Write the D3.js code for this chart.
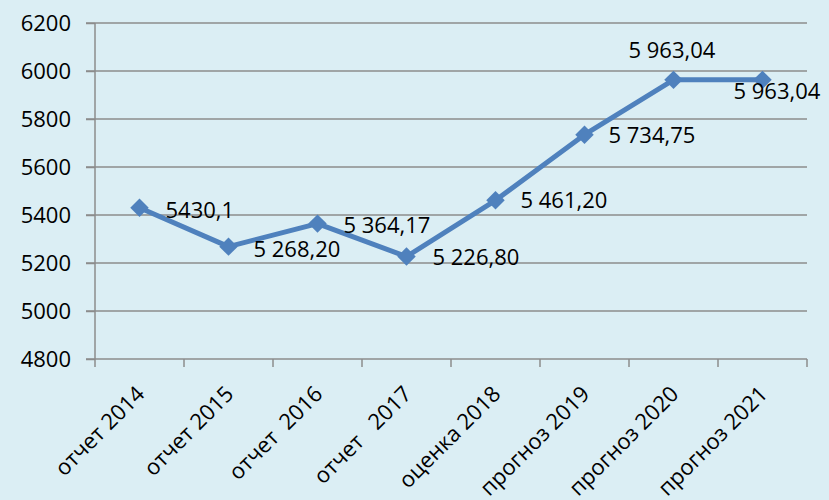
<!DOCTYPE html>
<html>
<head>
<meta charset="utf-8">
<script src="https://cdn.jsdelivr.net/npm/d3@7"></script>
<style>
  body { margin: 0; background: #dbeef4; }
  svg { display: block; font-family: "Open Sans", sans-serif; }
  text { white-space: pre; }
</style>
</head>
<body>
<div id="chart"></div>
<script>
// data
var categories = ["отчет 2014", "отчет 2015", "отчет  2016", "отчет   2017",
                  "оценка 2018", "прогноз 2019", "прогноз 2020", "прогноз 2021"];
var values = [5430.1, 5268.20, 5364.17, 5226.80, 5461.20, 5734.75, 5963.04, 5963.04];
var valueLabels = ["5430,1", "5 268,20", "5 364,17", "5 226,80", "5 461,20",
                   "5 734,75", "5 963,04", "5 963,04"];
var yTicks = [4800, 5000, 5200, 5400, 5600, 5800, 6000, 6200];

var width = 829, height = 500;
var margin = { top: 23, right: 22, bottom: 141, left: 95 };
var innerW = width - margin.left - margin.right,
    innerH = height - margin.top - margin.bottom;

var svg = d3.select("#chart").append("svg")
    .attr("width", width)
    .attr("height", height);

svg.append("rect")
    .attr("width", width).attr("height", height)
    .attr("fill", "#dbeef4");

var g = svg.append("g")
    .attr("transform", "translate(" + margin.left + "," + margin.top + ")");

var x = d3.scaleBand().domain(categories).range([0, innerW]);
var y = d3.scaleLinear().domain([4800, 6200]).range([innerH, 0]);

// horizontal grid lines
g.append("g").selectAll("line")
    .data(yTicks.slice(1))
    .join("line")
    .attr("x1", -9).attr("x2", innerW)
    .attr("y1", d => y(d)).attr("y2", d => y(d))
    .attr("stroke", "#8c8c8c")
    .attr("stroke-width", 1.5);

// y axis
var yAxis = g.append("g")
    .call(d3.axisLeft(y).tickValues(yTicks).tickSize(9).tickPadding(15).tickFormat(d3.format("d")));
yAxis.selectAll("line, path").attr("stroke", "#8c8c8c").attr("stroke-width", 1.5);
yAxis.select(".domain").attr("d", "M0," + innerH + "V0");
yAxis.selectAll("text").attr("font-size", 22).attr("fill", "#000")
    .attr("font-family", "Open Sans, sans-serif");

// x axis - ticks on band edges
var xAxisG = g.append("g").attr("transform", "translate(0," + innerH + ")");
xAxisG.append("line")
    .attr("x1", -9).attr("x2", innerW)
    .attr("stroke", "#8c8c8c").attr("stroke-width", 1.5);
xAxisG.selectAll(".tk")
    .data(categories.concat(["end"]))
    .join("line")
    .attr("class", "tk")
    .attr("x1", (d, i) => i * x.bandwidth()).attr("x2", (d, i) => i * x.bandwidth())
    .attr("y1", 0).attr("y2", 8)
    .attr("stroke", "#8c8c8c").attr("stroke-width", 1.5);
xAxisG.selectAll(".lbl")
    .data(categories)
    .join("text")
    .attr("class", "lbl")
    .attr("transform", d => "translate(" + (x(d) + x.bandwidth() / 2 + 1) + ",31) rotate(-45)")
    .attr("text-anchor", "end")
    .attr("dy", "0.35em")
    .attr("font-size", 22)
    .attr("fill", "#000")
    .text(d => d);

// line
var line = d3.line()
    .x((d, i) => x(categories[i]) + x.bandwidth() / 2)
    .y(d => y(d));

g.append("path")
    .datum(values)
    .attr("d", line)
    .attr("fill", "none")
    .attr("stroke", "#4f81bd")
    .attr("stroke-width", 5)
    .attr("stroke-linejoin", "round");

// diamond markers
g.selectAll(".marker")
    .data(values)
    .join("path")
    .attr("class", "marker")
    .attr("d", d3.symbol(d3.symbolSquare, 170))
    .attr("transform", (d, i) => "translate(" + (x(categories[i]) + x.bandwidth() / 2) + "," + y(d) + ") rotate(45)")
    .attr("fill", "#4f81bd");

// data labels: mostly to the right, the 2020 one above, 2021 one moved onto the marker
var labelDx = [26, 25, 26, 26, 25, 24, -45, -29];
var labelDy = [2, 2, 1, 1, 0, 0, -30, 11];
g.selectAll(".vlabel")
    .data(values)
    .join("text")
    .attr("class", "vlabel")
    .attr("x", (d, i) => x(categories[i]) + x.bandwidth() / 2 + labelDx[i])
    .attr("y", (d, i) => y(d) + labelDy[i])
    .attr("dy", "0.36em")
    .attr("font-size", 22)
    .attr("fill", "#000")
    .text((d, i) => valueLabels[i]);
</script>
</body>
</html>
